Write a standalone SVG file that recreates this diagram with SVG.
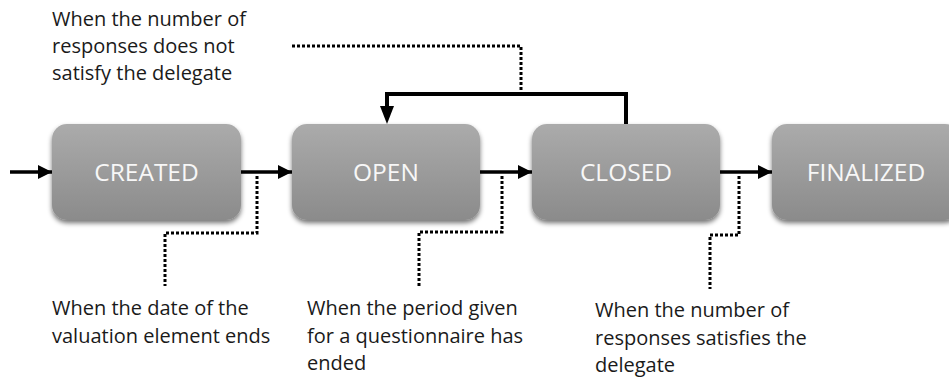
<svg xmlns="http://www.w3.org/2000/svg" width="949" height="379" viewBox="0 0 949 379">
<defs>
<linearGradient id="g" x1="0" y1="0" x2="0" y2="1">
<stop offset="0" stop-color="#ababab"/>
<stop offset="1" stop-color="#8b8b8b"/>
</linearGradient>
<filter id="sh" x="-10%" y="-10%" width="120%" height="130%">
<feGaussianBlur in="SourceAlpha" stdDeviation="2.5"/>
<feOffset dx="0" dy="3" result="b"/>
<feComponentTransfer><feFuncA type="linear" slope="0.55"/></feComponentTransfer>
<feMerge><feMergeNode/><feMergeNode in="SourceGraphic"/></feMerge>
</filter>
<marker id="ah" viewBox="0 0 10 10" refX="10" refY="5" markerWidth="4" markerHeight="4" markerUnits="strokeWidth" orient="auto">
<path d="M0,0 L10,5 L0,10 Z" fill="#000"/>
</marker>
</defs>
<style>
.box{fill:url(#g);filter:url(#sh)}
.nt{font-family:"Open Sans","Liberation Sans",sans-serif;font-size:24.5px;fill:#f7f7f7;text-anchor:middle}
.lb{font-family:"Open Sans","Liberation Sans",sans-serif;font-size:20px;fill:#1a1a1a}
.ar{stroke:#000;stroke-width:3.5;fill:none;marker-end:url(#ah)}
.fb{stroke:#000;stroke-width:4;fill:none}
.dt{stroke:#000;stroke-width:3;fill:none;stroke-dasharray:3 2}
</style>
<g id="created"><rect class="box" x="52" y="124" width="189" height="96" rx="15"/><text class="nt" x="146.5" y="181">CREATED</text></g>
<g id="open"><rect class="box" x="292" y="124" width="188" height="96" rx="15"/><text class="nt" x="386" y="181">OPEN</text></g>
<g id="closed"><rect class="box" x="532" y="124" width="188" height="96" rx="15"/><text class="nt" x="626" y="181">CLOSED</text></g>
<g id="finalized"><rect class="box" x="772" y="124" width="188" height="96" rx="15"/><text class="nt" x="866" y="181">FINALIZED</text></g>
<g id="connectors">
<line class="ar" x1="10" y1="172" x2="52" y2="172"/>
<line class="ar" x1="241" y1="172" x2="292" y2="172"/>
<line class="ar" x1="480" y1="172" x2="532" y2="172"/>
<line class="ar" x1="720" y1="172" x2="772" y2="172"/>
<path class="fb" d="M626,124 V94 H387 V108"/>
<path d="M380,106 L394,106 L387,124 Z" fill="#000"/>
<path class="dt" d="M292,46 H521 V94"/>
<path class="dt" d="M257,176 V233 H165 V286"/>
<path class="dt" d="M502,176 V232 H419 V286"/>
<path class="dt" d="M739,176 V235 H710 V289"/>
</g>
<g id="labels">
<text class="lb"><tspan x="52" y="26">When the number of</tspan><tspan x="52" y="53">responses does not</tspan><tspan x="52" y="80">satisfy the delegate</tspan></text>
<text class="lb"><tspan x="52" y="315">When the date of the</tspan><tspan x="52" y="343">valuation element ends</tspan></text>
<text class="lb"><tspan x="307" y="315">When the period given</tspan><tspan x="307" y="343">for a questionnaire has</tspan><tspan x="307" y="370">ended</tspan></text>
<text class="lb"><tspan x="595" y="317">When the number of</tspan><tspan x="595" y="345">responses satisfies the</tspan><tspan x="595" y="372">delegate</tspan></text>
</g>
</svg>
